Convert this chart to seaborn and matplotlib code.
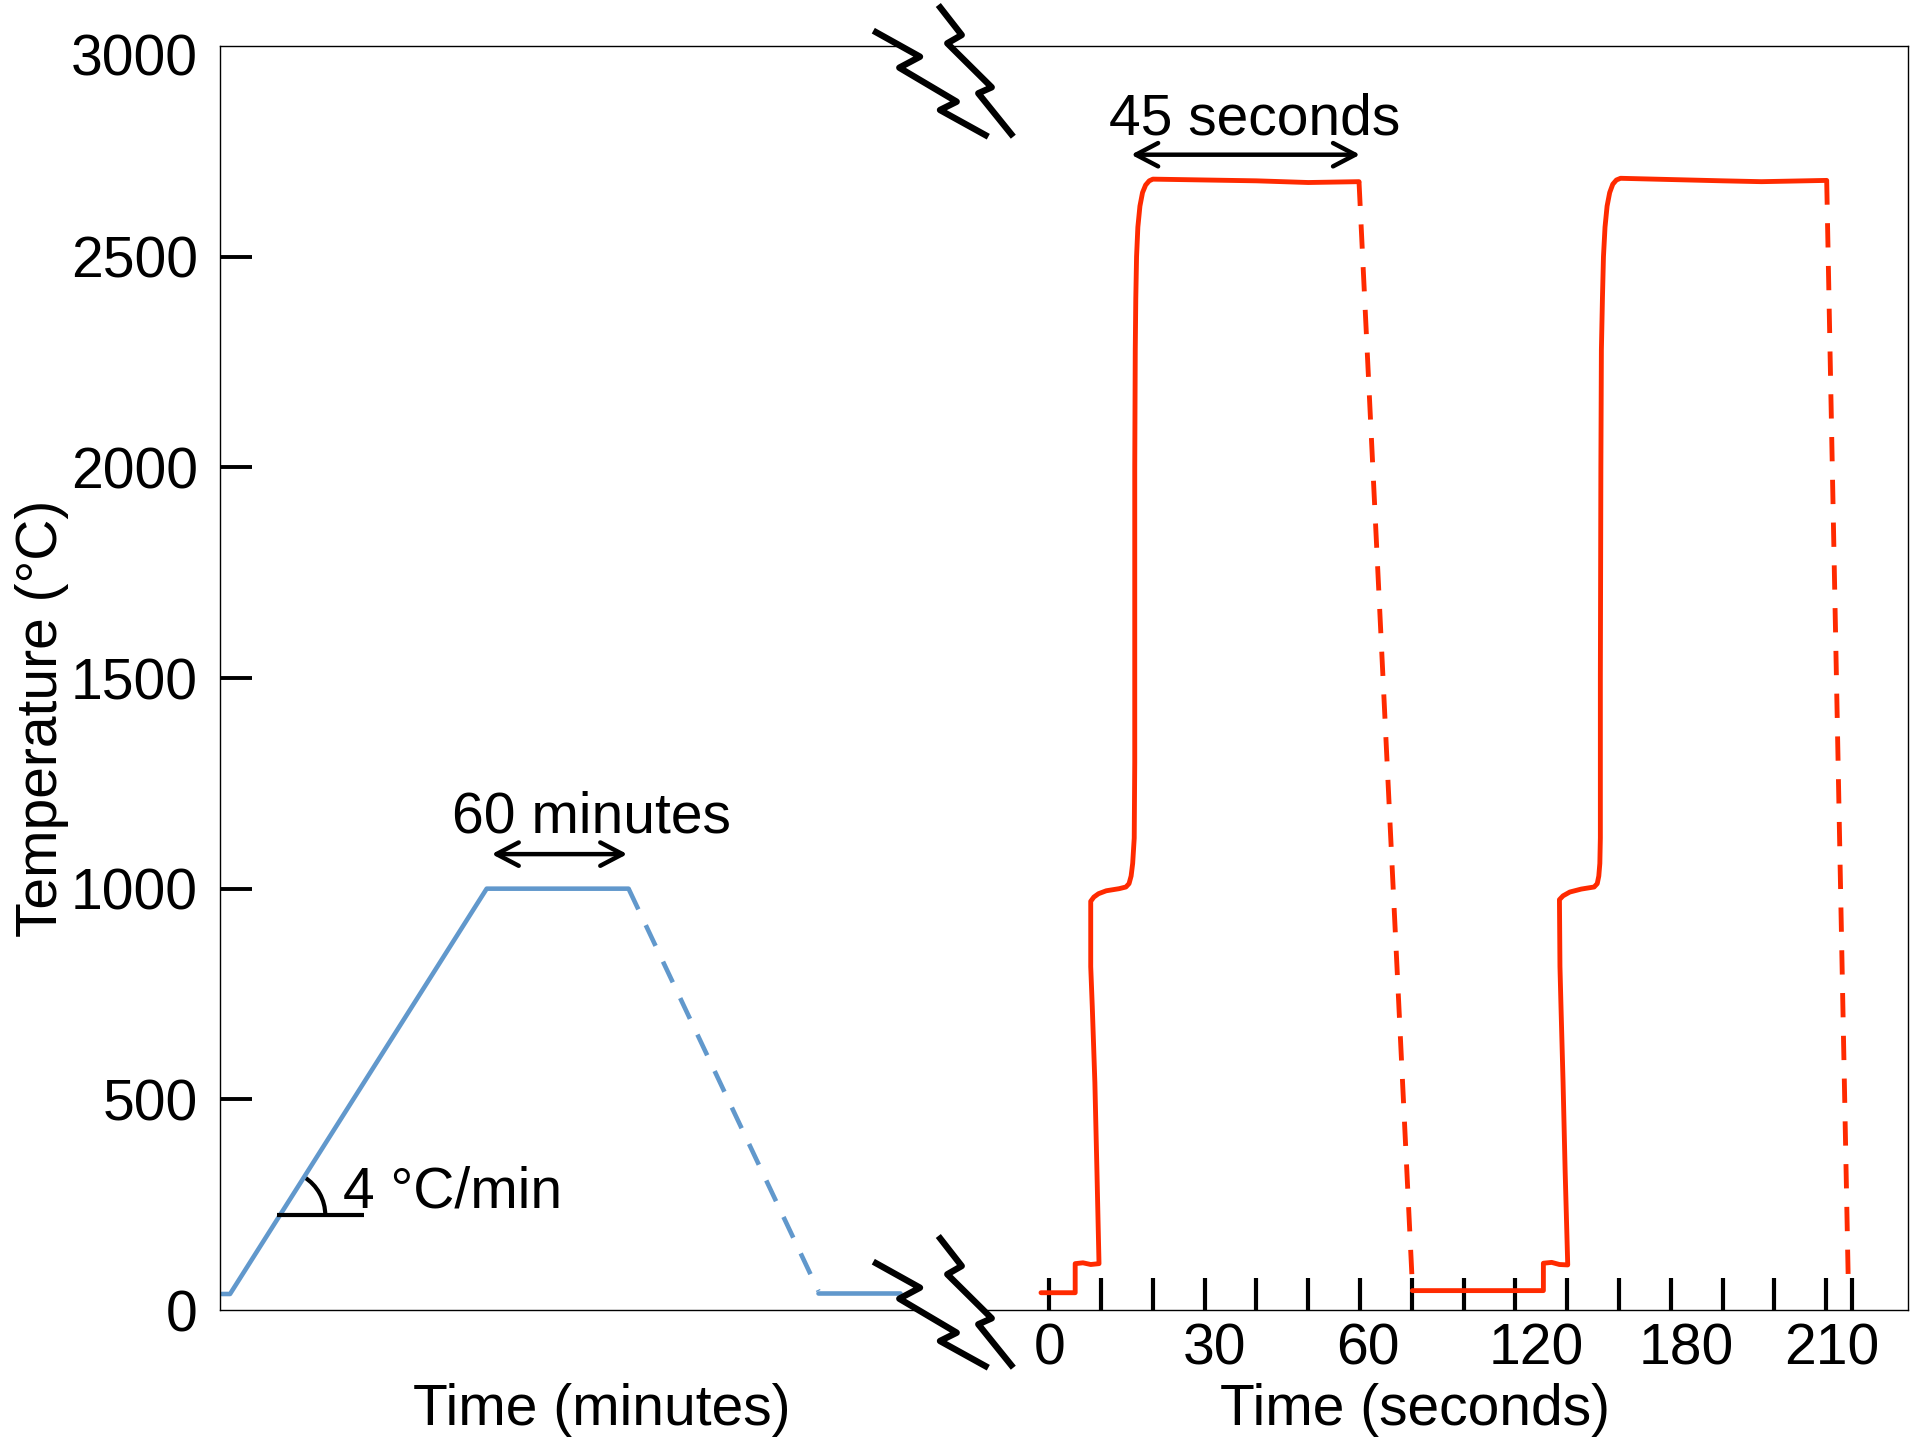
import matplotlib
matplotlib.use("Agg")
import matplotlib.pyplot as plt
import seaborn as sns
from matplotlib.patches import Arc, Polygon
from matplotlib.lines import Line2D
from matplotlib.transforms import ScaledTranslation

# ---------------- data ----------------
# Furnace anneal (left panel, minutes / degC)
furnace_ramp_t = [1.5, 9.4, 250.0, 383.0]
furnace_ramp_T = [38, 38, 1000, 1000]
furnace_cool_t = [383.0, 561.0]
furnace_cool_T = [1000, 45]
furnace_end_t = [561.0, 637.0]
furnace_end_T = [40, 40]

# Flash pulses (right panel, seconds / degC)
pulse1_t = [-1.6, 5.0, 5.0, 6.5, 8.0, 9.6, 9.2, 8.8, 8.3, 8.0, 8.0, 8.6, 9.5, 11.0, 13.5,
            14.8, 15.4, 15.8, 16.1, 16.4, 16.5, 16.5, 16.5, 16.6, 16.7, 16.85, 17.1, 17.5,
            18.0, 18.6, 19.3, 20.0, 40.0, 50.0, 59.8]
pulse1_T = [41, 41, 110, 112, 108, 110, 330, 540, 720, 815, 970, 980, 988, 995, 1000,
            1004, 1012, 1030, 1060, 1120, 1300, 1500, 2000, 2279, 2400, 2500, 2570, 2620,
            2652, 2670, 2680, 2684, 2680, 2676, 2678]
cool1_t = [59.8, 70.1]
cool1_T = [2678, 60]
pulse2_t = [70.1, 95.4, 95.4, 97.0, 98.5, 100.1, 99.6, 99.2, 98.8, 98.6, 98.5, 99.2, 100.5,
            102.7, 105.2, 105.8, 106.1, 106.3, 106.4, 106.4, 106.4, 106.5, 106.6, 106.8,
            107.0, 107.3, 107.7, 108.2, 108.8, 109.5, 110.3, 130.0, 137.5, 150.1]
pulse2_T = [46, 46, 111, 113, 108, 107, 330, 540, 720, 815, 974, 983, 992,
            999, 1004, 1012, 1030, 1060, 1120, 1300, 1500, 2000, 2279, 2400,
            2500, 2570, 2620, 2652, 2672, 2682, 2686, 2680, 2678, 2681]
cool2_t = [150.1, 154.3]
cool2_T = [2681, 47]

y_ticks = [0, 500, 1000, 1500, 2000, 2500, 3000]
y_ticklabels = ["0", "500", "1000", "1500", "2000", "2500", "3000"]
sec_tick_marks = [0, 10, 20, 30, 40, 50, 60, 70, 80, 90, 100, 110, 120, 130, 140, 150, 155]
sec_label_pos = [0, 32, 61.5, 94, 123, 151]
sec_labels = ["0", "30", "60", "120", "180", "210"]

# break symbol zigzags (pixel offsets from anchor, y downward)
break_line_a = [(-73.7, -15.3), (-27, 10.7), (-47.7, 21.7), (9.7, 55.7), (-7, 64), (41.3, 90.7)]
break_line_b = [(-8.7, -41), (14.7, -11), (0.3, -2.7), (44.7, 41.3), (31.3, 47.3), (66.3, 90.7)]

# ---------------- style ----------------
sns.set_theme(style="white")
plt.rcParams["font.family"] = ["Liberation Sans", "DejaVu Sans"]
for k in ["text.color", "axes.labelcolor", "xtick.color", "ytick.color", "axes.edgecolor"]:
    plt.rcParams[k] = "black"
plt.rcParams["axes.linewidth"] = 1.0

BLUE = "#6198cc"
RED = "#ff2a00"
FS = 41
DASH = (0, (5.0, 3.8))

W, H = 1917, 1440
fig = plt.figure(figsize=(W / 100, H / 100), dpi=100)


def frac(x0, y0, x1, y1):
    return [x0 / W, 1 - y1 / H, (x1 - x0) / W, (y1 - y0) / H]


axL = fig.add_axes(frac(220, 46, 947, 1310))
axR = fig.add_axes(frac(947, 46, 1908, 1310))

for ax in (axL, axR):
    ax.set_ylim(0, 3000)
    ax.set_facecolor("white")
    for s in ax.spines.values():
        s.set_linewidth(1.0)
        s.set_color("black")

axL.set_xlim(0, 681.5)
axR.set_xlim(-19.75, 165.8)
axL.spines["right"].set_visible(False)
axR.spines["left"].set_visible(False)

# ---------------- lines ----------------
LWB = 3.3
LWR = 3.5
sns.lineplot(x=furnace_ramp_t, y=furnace_ramp_T, ax=axL, sort=False, estimator=None,
             color=BLUE, linewidth=LWB, solid_joinstyle="round")
sns.lineplot(x=furnace_cool_t, y=furnace_cool_T, ax=axL, sort=False, estimator=None,
             color=BLUE, linewidth=LWB, linestyle=DASH)
sns.lineplot(x=furnace_end_t, y=furnace_end_T, ax=axL, sort=False, estimator=None,
             color=BLUE, linewidth=LWB)

for t, T, ls in [(pulse1_t, pulse1_T, "-"), (cool1_t, cool1_T, DASH),
                 (pulse2_t, pulse2_T, "-"), (cool2_t, cool2_T, DASH)]:
    sns.lineplot(x=t, y=T, ax=axR, sort=False, estimator=None, color=RED,
                 linewidth=LWR, linestyle=ls, solid_joinstyle="round")

# ---------------- ticks ----------------
axL.set_yticks(y_ticks)
axL.set_yticklabels(y_ticklabels, fontsize=FS)
axL.tick_params(axis="y", direction="in", length=23, width=2.8, pad=16, left=True, color="black")
axL.yaxis.get_major_ticks()[0].tick1line.set_visible(False)
axL.yaxis.get_major_ticks()[-1].tick1line.set_visible(False)
top_lbl = axL.get_yticklabels()[-1]
top_lbl.set_transform(top_lbl.get_transform() + ScaledTranslation(0, -0.08, fig.dpi_scale_trans))
axL.set_xticks([])

axR.set_yticks(y_ticks)
axR.tick_params(axis="y", left=False, labelleft=False)
axR.xaxis.remove_overlapping_locs = False
axR.set_xticks(sec_tick_marks)
axR.set_xticks(sec_label_pos, minor=True)
axR.set_xticklabels(sec_labels, minor=True, fontsize=FS)
axR.tick_params(axis="x", which="major", direction="in", length=23, width=3.0,
                labelbottom=False, bottom=True, color="black")
axR.tick_params(axis="x", which="minor", length=0, pad=9, bottom=True)

# ---------------- labels ----------------
axL.set_ylabel("Temperature (°C)", fontsize=FS)
axL.yaxis.set_label_coords((69 - 220) / 727, (1310 - 718) / 1264)
axL.set_xlabel("Time (minutes)", fontsize=FS)
axL.xaxis.set_label_coords((602 - 220) / 727, -73 / 1264)
axR.set_xlabel("Time (seconds)", fontsize=FS)
axR.xaxis.set_label_coords((1415 - 947) / 961, -73 / 1264)

# ---------------- annotations ----------------
arrow = dict(arrowstyle="<->,head_length=0.8,head_width=0.42", lw=3.2, color="black",
             shrinkA=0, shrinkB=0, mutation_scale=20)
axR.annotate("", xy=(60.0, 2742), xytext=(15.8, 2742), arrowprops=arrow)
axR.text(39.7, 2790, "45 seconds", fontsize=FS, ha="center", va="baseline")
axL.annotate("", xy=(381.8, 1082), xytext=(254.7, 1082), arrowprops=arrow)
axL.text(348, 1133, "60 minutes", fontsize=FS, ha="center", va="baseline")

# slope marker
axL.plot([53.0, 135.0], [225, 225], color="black", lw=3.0, solid_capstyle="butt")
arc_tr = fig.dpi_scale_trans + ScaledTranslation(56.5, 225, axL.transData)
axL.add_patch(Arc((0, 0), 0.9, 0.9, theta1=0, theta2=58, transform=arc_tr,
                  color="black", lw=3.0))
axL.text(115.6, 244, "4 °C/min", fontsize=FS, ha="left", va="baseline")

# ---------------- axis break symbols ----------------
for ax0, ay0 in [(947, 46), (947, 1277)]:
    pa = [((ax0 + dx) / W, 1 - (ay0 + dy) / H) for dx, dy in break_line_a]
    pb = [((ax0 + dx) / W, 1 - (ay0 + dy) / H) for dx, dy in break_line_b]
    fig.add_artist(Polygon(pa + pb[::-1], closed=True, facecolor="white", edgecolor="none",
                           transform=fig.transFigure, zorder=5))
    for pts in (pa, pb):
        fig.add_artist(Line2D([p[0] for p in pts], [p[1] for p in pts], color="black",
                              lw=4.6, solid_joinstyle="round", solid_capstyle="butt",
                              transform=fig.transFigure, zorder=6))

fig.savefig("out.png", dpi=100, facecolor="white")
